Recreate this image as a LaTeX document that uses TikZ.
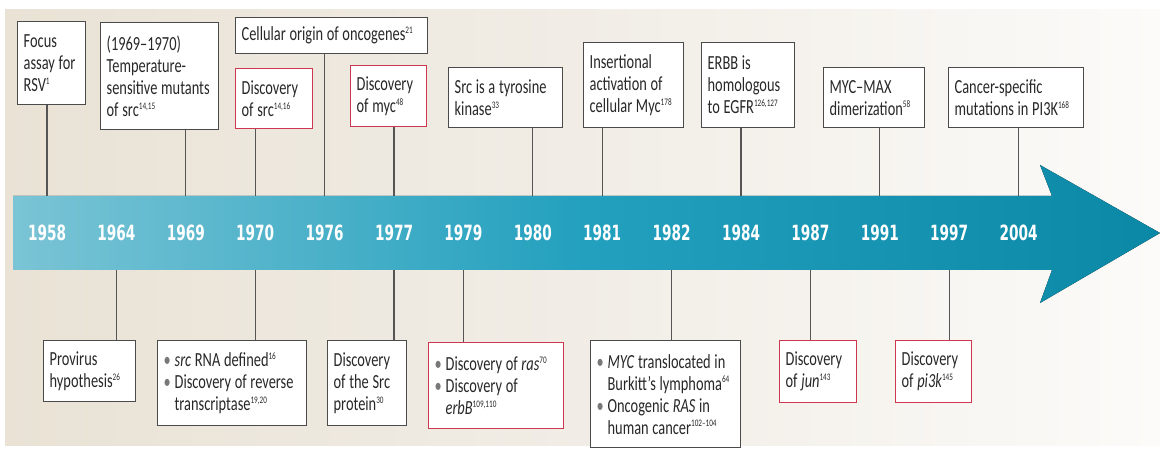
\documentclass[tikz,border=0pt]{standalone}
\usepackage{fontspec}
\setmainfont[FakeStretch=0.72]{Carlito}
\newfontfamily\yearfont[FakeStretch=0.65]{DejaVu Sans}
\usetikzlibrary{positioning}
\definecolor{panelL}{RGB}{233,226,213}
\definecolor{panelM}{RGB}{241,237,230}
\definecolor{panelR}{RGB}{252,251,249}
\definecolor{bandL}{RGB}{122,196,213}
\definecolor{bandM}{RGB}{34,160,190}
\definecolor{bandR}{RGB}{10,136,166}
\definecolor{boxgray}{RGB}{75,75,75}
\definecolor{inkgray}{RGB}{40,40,40}
\definecolor{markred}{RGB}{205,55,80}
\definecolor{stemgray}{RGB}{85,85,85}
\definecolor{bulletgray}{RGB}{120,120,120}
\newcommand\rf[1]{\raisebox{0.75ex}{\fontsize{10}{10}\selectfont#1}}
\newcommand\itm{\makebox[11pt][l]{\textcolor{bulletgray}{\textbullet}}}
\newcommand\ind{\hspace*{11pt}}
\tikzset{
node distance=1em,
event/.style={draw=boxgray, line width=1.3pt, fill=white, text=inkgray,
  inner xsep=6pt, inner ysep=5pt, align=left, anchor=north west,
  font=\fontsize{20}{22}\selectfont,
  execute at begin node={\hyphenpenalty=10000\spaceskip=3.7pt plus 2pt minus 1pt\relax}},
landmark/.style={event, draw=markred},
size/.code 2 args={\pgfmathsetlengthmacro\boxtw{#1-12}%
  \tikzset{minimum width=#1pt, minimum height=#2pt, text width=\boxtw}},
year/.style={text=white, font=\yearfont\bfseries\fontsize{21}{21}\selectfont},
stem/.style={draw=stemgray, line width=1.2pt},
}
\begin{document}
\begin{tikzpicture}[x=1pt, y=-1pt]
    \useasboundingbox (0,0) rectangle (1160,449);
    % background and timeline arrow
    \fill[left color=panelL, right color=panelR, middle color=panelM] (5,10) rectangle (1160,445);
    \fill[left color=bandL, right color=bandR, middle color=bandM]
        (13,196) -- (1052,196) -- (1040,165) -- (1160,233) -- (1040,303) -- (1052,270) -- (13,270) -- cycle;

    \foreach \yr [count=\i from 0] in {1958,1964,1969,1970,1976,1977,1979,1980,1981,1982,1984,1987,1991,1997,2004} {
        \node[year] (y\yr) at (47+69.4*\i, 233) {\yr};
        \coordinate (t\yr) at (47+69.4*\i, 196);
        \coordinate (b\yr) at (47+69.4*\i, 270);
    }

    % above the line
    \node[event, size={68}{83}] (focus) at (17,21) {Focus\\assay for\\RSV\rf{1}};
    \node[event, size={118}{107}] (tsmut) at (100,22) {(1969--1970)\\Temperature-\\sensitive~mutants\\of src\rf{14,15}};
    \node[event, size={192}{36}] (origin) at (235,17) {Cellular~origin~of~oncogenes\rf{21}};
    \node[landmark, size={77}{60}] (dsrc) at (235,68) {Discovery\\of src\rf{14,16}};
    \node[landmark, size={76}{61}] (dmyc) at (350,65) {Discovery\\of myc\rf{48}};
    \node[event, size={114}{60}] (kinase) at (448,67) {Src is a tyrosine\\kinase\rf{33}};
    \node[event, size={100}{85}] (insert) at (583,42) {Insertional\\activation of\\cellular Myc\rf{178}};
    \node[event, size={93}{85}] (erbb) at (701,42) {ERBB is\\homologous\\to EGFR\rf{126,127}};
    \node[event, size={101}{60}] (dimer) at (823,67) {MYC--MAX\\dimerization\rf{58}};
    \node[event, size={135}{60}] (pimut) at (948,67) {Cancer-specific\\mutations in PI3K\rf{168}};

    % below the line
    \node[event, size={92}{61}] (provirus) at (43,340) {Provirus\\hypothesis\rf{26}};
    \node[event, size={149}{85}] (rtase) at (157,340) {\itm\textit{src} RNA defined\rf{16}\\\itm Discovery of reverse\\\ind transcriptase\rf{19,20}};
    \node[event, size={79}{85}] (srcprot) at (327,340) {Discovery\\of the Src\\protein\rf{30}};
    \node[landmark, size={135}{86}] (ras) at (428,342) {\itm Discovery of \textit{ras}\rf{70}\\\itm Discovery of\\\ind\textit{erbB}\rf{109,110}};
    \node[event, size={150}{107}] (burkitt) at (590,340) {\itm\textit{MYC} translocated in\\\ind Burkitt's lymphoma\rf{64}\\\itm Oncogenic \textit{RAS} in\\\ind human cancer\rf{102--104}};
    \node[landmark, size={77}{62}] (jun) at (779,340) {Discovery\\of \textit{jun}\rf{143}};
    \node[landmark, size={76}{62}] (pik) at (895,340) {Discovery\\of \textit{pi3k}\rf{145}};

    \foreach \yr/\ev in {1958/focus, 1969/tsmut, 1970/dsrc, 1976/origin, 1977/dmyc, 1980/kinase, 1981/insert, 1984/erbb, 1991/dimer, 2004/pimut}
        \draw[stem] (t\yr |- \ev.south) -- (t\yr);
    \foreach \yr/\ev in {1964/provirus, 1970/rtase, 1977/srcprot, 1979/ras, 1982/burkitt, 1987/jun, 1997/pik}
        \draw[stem] (b\yr) -- (b\yr |- \ev.north);
\end{tikzpicture}
\end{document}
